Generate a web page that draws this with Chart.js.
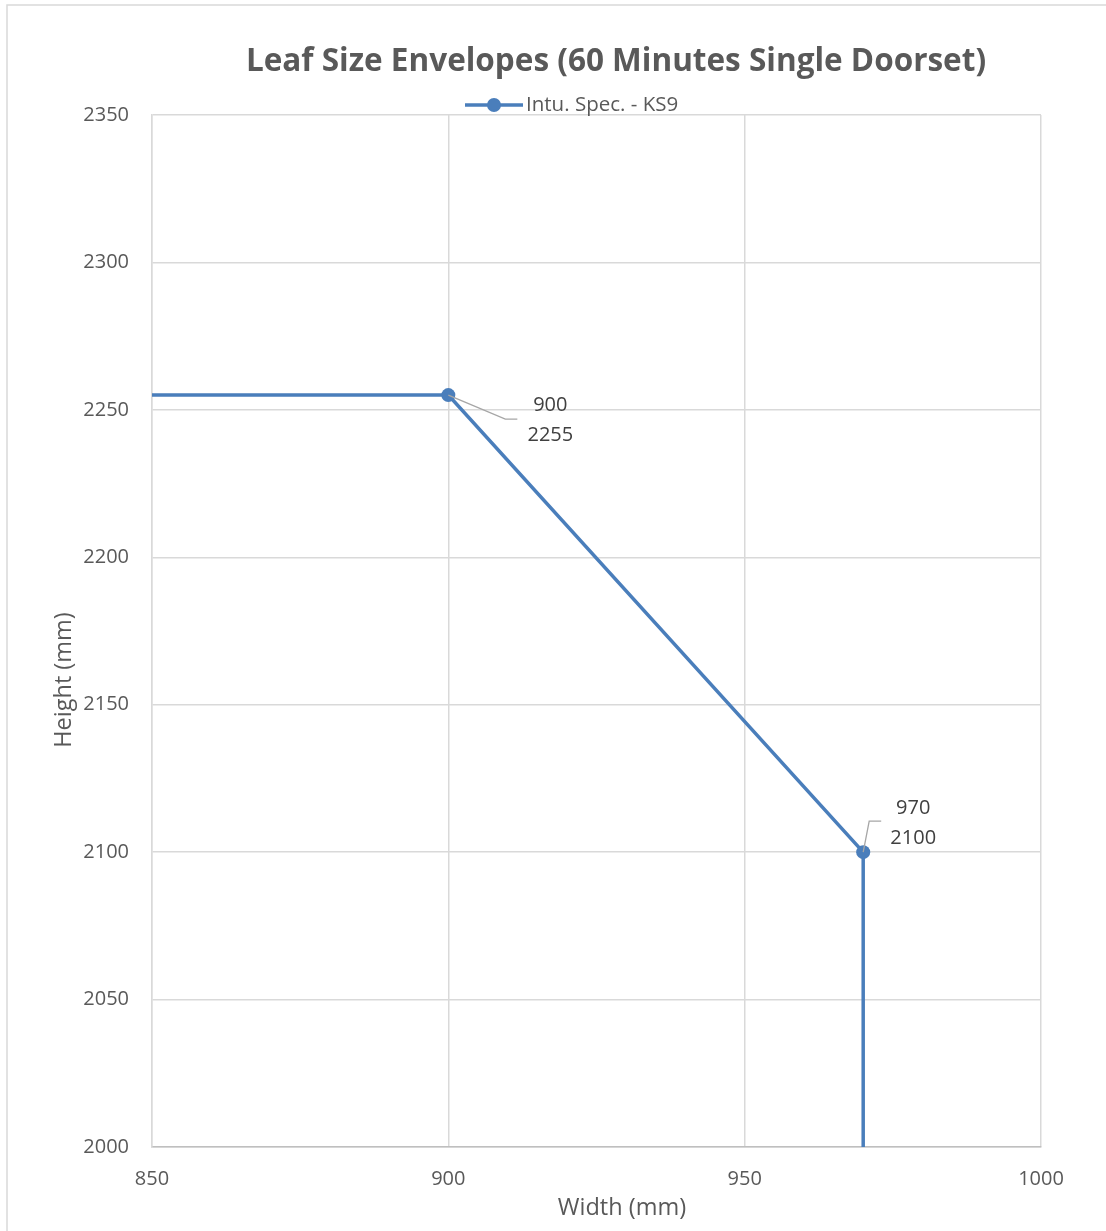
<!DOCTYPE html>
<html>
<head>
<meta charset="utf-8">
<script src="https://cdn.jsdelivr.net/npm/chart.js@4.4.0/dist/chart.umd.min.js"></script>
<style>
html,body{margin:0;padding:0;background:#fff;}
#wrap{width:1106px;height:1231px;position:relative;}
</style>
</head>
<body>
<div id="wrap"><canvas id="c" width="1106" height="1231"></canvas></div>
<script>
// ---- data ----
const chartTitle = 'Leaf Size Envelopes (60 Minutes Single Doorset)';
const seriesName = 'Intu. Spec. - KS9';
const xTitle = 'Width (mm)';
const yTitle = 'Height (mm)';
const widthValues = [850, 900, 970, 970];
const heightValues = [2255, 2255, 2100, 2000];
const labelledPoints = [1, 2];
const xTicks = [850, 900, 950, 1000];
const yTicks = [2000, 2050, 2100, 2150, 2200, 2250, 2300, 2350];

const FONT = "'Open Sans', 'Liberation Sans', sans-serif";
const BLUE = '#4A7EBB';
const TXT = '#595959';

const points = widthValues.map((x, i) => ({x: x, y: heightValues[i]}));

const decor = {
  id: 'decor',
  beforeDraw(chart) {
    const c = chart.ctx;
    c.save();
    c.fillStyle = '#fff';
    c.fillRect(0, 0, chart.width, chart.height);
    c.strokeStyle = '#d9d9d9';
    c.lineWidth = 1.5;
    c.strokeRect(7, 5, 1110, 1240);
    c.restore();
  },
  afterDraw(chart) {
    const c = chart.ctx;
    const xs = chart.scales.x, ys = chart.scales.y;
    c.save();
    // title
    c.fillStyle = TXT;
    c.textAlign = 'center';
    c.textBaseline = 'middle';
    c.font = `bold 31.5px ${FONT}`;
    c.fillText(chartTitle, 616, 62);
    // legend
    c.strokeStyle = BLUE;
    c.lineWidth = 3.5;
    c.beginPath(); c.moveTo(465, 105); c.lineTo(523, 105); c.stroke();
    c.fillStyle = BLUE;
    c.beginPath(); c.arc(494, 105, 7, 0, Math.PI * 2); c.fill();
    c.fillStyle = TXT;
    c.textAlign = 'left';
    c.font = `20.5px ${FONT}`;
    c.fillText(seriesName, 526, 105);
    // axis titles
    c.textAlign = 'center';
    c.font = `23.5px ${FONT}`;
    c.fillText(xTitle, 622, 1208);
    c.save();
    c.translate(64, 680);
    c.rotate(-Math.PI / 2);
    c.fillText(yTitle, 0, 0);
    c.restore();
    // data labels with leader lines
    const offsets = [null, {lx: 102, ly: 10, a: [57, 24], b: [69, 24]}, {lx: 50, ly: -44, a: [6, -31], b: [18, -31]}];
    labelledPoints.forEach(i => {
      const px = xs.getPixelForValue(widthValues[i]);
      const py = ys.getPixelForValue(heightValues[i]);
      const o = offsets[i];
      c.strokeStyle = '#a6a6a6';
      c.lineWidth = 1.3;
      c.beginPath();
      c.moveTo(px, py);
      c.lineTo(px + o.a[0], py + o.a[1]);
      c.lineTo(px + o.b[0], py + o.b[1]);
      c.stroke();
      c.fillStyle = '#404040';
      c.font = `20px ${FONT}`;
      c.textAlign = 'center';
      c.fillText(String(widthValues[i]), px + o.lx, py + o.ly);
      c.fillText(String(heightValues[i]), px + o.lx, py + o.ly + 30);
    });
    c.restore();
  }
};

new Chart(document.getElementById('c'), {
  type: 'line',
  data: {
    datasets: [{
      label: seriesName,
      data: points,
      borderColor: BLUE,
      backgroundColor: BLUE,
      borderWidth: 3.5,
      pointRadius: ctx => labelledPoints.includes(ctx.dataIndex) ? 7 : 0,
      pointHoverRadius: 7,
      pointBorderWidth: 0,
      tension: 0,
      clip: 2
    }]
  },
  options: {
    responsive: false,
    animation: false,
    events: [],
    layout: {padding: {top: 115, right: 65, bottom: 0, left: 0}},
    plugins: {legend: {display: false}, title: {display: false}, tooltip: {enabled: false}},
    scales: {
      x: {
        type: 'linear', min: 850, max: 1000,
        afterBuildTicks: s => { s.ticks = xTicks.map(v => ({value: v})); },
        afterFit: s => { s.height = 84; },
        grid: {color: '#d9d9d9', lineWidth: 1.5, drawTicks: false},
        border: {color: '#bfbfbf', width: 1.5},
        ticks: {padding: 20, color: TXT, font: {family: FONT, size: 20}, maxRotation: 0, callback: v => String(v)}
      },
      y: {
        type: 'linear', min: 2000, max: 2350,
        afterBuildTicks: s => { s.ticks = yTicks.map(v => ({value: v})); },
        afterFit: s => { s.width = 152; },
        grid: {color: '#d9d9d9', lineWidth: 1.5, drawTicks: false},
        border: {color: '#d9d9d9', width: 1.5},
        ticks: {padding: 23, color: TXT, font: {family: FONT, size: 20}, callback: v => String(v)}
      }
    }
  },
  plugins: [decor]
});
</script>
</body>
</html>
